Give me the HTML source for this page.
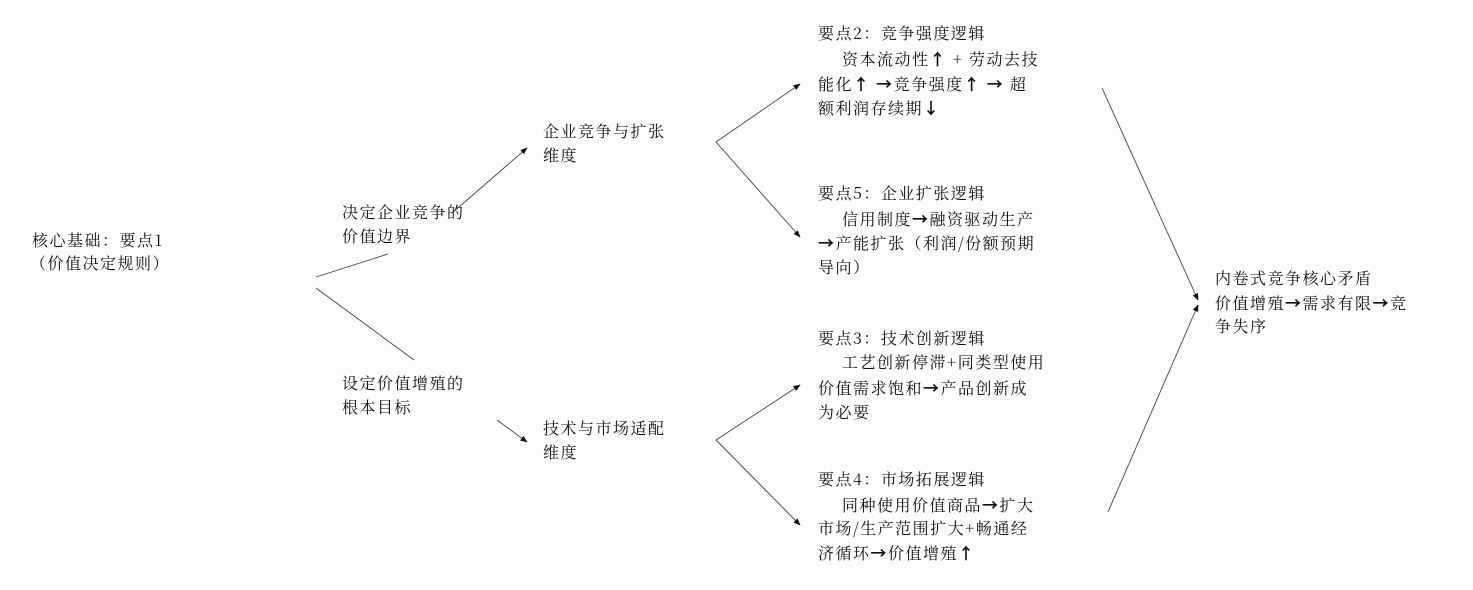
<!DOCTYPE html>
<html><head><meta charset="utf-8"><style>
html,body{margin:0;padding:0;background:#fdfdfd;}
#c{position:relative;width:1473px;height:590px;overflow:hidden;font-family:"Noto Serif CJK SC","Noto Sans CJK SC",serif;font-size:16px;color:#111;}
.t{position:absolute;white-space:nowrap;line-height:20px;letter-spacing:1.5px;}
.a{font-family:"Noto Sans CJK SC",sans-serif;font-weight:bold;}
svg{position:absolute;left:0;top:0;}
</style></head><body><div id="c">
<svg width="1473" height="590">
<defs><marker id="a" viewBox="0 0 10 10" refX="9" refY="5" markerWidth="8" markerHeight="8" orient="auto"><path d="M0,1 L10,5 L0,9 z" fill="#111"/></marker></defs>
<g stroke="#444" stroke-width="0.9" fill="none">
<line x1="316" y1="277" x2="388" y2="254"/>
<line x1="316" y1="288" x2="414" y2="360"/>
<line x1="452" y1="213" x2="527" y2="148" marker-end="url(#a)"/>
<line x1="497" y1="420" x2="527" y2="442" marker-end="url(#a)"/>
<line x1="716" y1="142" x2="800" y2="84" marker-end="url(#a)"/>
<line x1="716" y1="142" x2="800" y2="237" marker-end="url(#a)"/>
<line x1="716" y1="440" x2="800" y2="385" marker-end="url(#a)"/>
<line x1="716" y1="440" x2="800" y2="525" marker-end="url(#a)"/>
<line x1="1102" y1="88" x2="1198" y2="300" marker-end="url(#a)"/>
<line x1="1108" y1="512" x2="1198" y2="305" marker-end="url(#a)"/>
</g></svg>
<div class="t" style="left:32px;top:230px">核心基础：要点1</div>
<div class="t" style="left:30px;top:253px">（价值决定规则）</div>
<div class="t" style="left:342px;top:202px">决定企业竞争的</div>
<div class="t" style="left:342px;top:226px">价值边界</div>
<div class="t" style="left:342px;top:373px">设定价值增殖的</div>
<div class="t" style="left:342px;top:397px">根本目标</div>
<div class="t" style="left:543px;top:121px">企业竞争与扩张</div>
<div class="t" style="left:543px;top:145px">维度</div>
<div class="t" style="left:543px;top:418px">技术与市场适配</div>
<div class="t" style="left:543px;top:442px">维度</div>
<div class="t" style="left:818px;top:23px">要点2：竞争强度逻辑</div>
<div class="t" style="left:842px;top:48px">资本流动性<span class="a">↑</span> + 劳动去技</div>
<div class="t" style="left:818px;top:73px">能化<span class="a">↑</span> <span class="a">→</span>竞争强度<span class="a">↑</span> <span class="a">→</span> 超</div>
<div class="t" style="left:818px;top:97px">额利润存续期<span class="a">↓</span></div>
<div class="t" style="left:818px;top:183px">要点5：企业扩张逻辑</div>
<div class="t" style="left:842px;top:208px">信用制度<span class="a">→</span>融资驱动生产</div>
<div class="t" style="left:818px;top:232px"><span class="a">→</span>产能扩张（利润/份额预期</div>
<div class="t" style="left:818px;top:257px">导向）</div>
<div class="t" style="left:818px;top:328px">要点3：技术创新逻辑</div>
<div class="t" style="left:842px;top:352px">工艺创新停滞+同类型使用</div>
<div class="t" style="left:818px;top:377px">价值需求饱和<span class="a">→</span>产品创新成</div>
<div class="t" style="left:818px;top:402px">为必要</div>
<div class="t" style="left:818px;top:469px">要点4：市场拓展逻辑</div>
<div class="t" style="left:842px;top:494px">同种使用价值商品<span class="a">→</span>扩大</div>
<div class="t" style="left:818px;top:518px">市场/生产范围扩大+畅通经</div>
<div class="t" style="left:818px;top:542px">济循环<span class="a">→</span>价值增殖<span class="a">↑</span></div>
<div class="t" style="left:1215px;top:268px">内卷式竞争核心矛盾</div>
<div class="t" style="left:1215px;top:292px">价值增殖<span class="a">→</span>需求有限<span class="a">→</span>竞</div>
<div class="t" style="left:1215px;top:316px">争失序</div>
</div></body></html>
